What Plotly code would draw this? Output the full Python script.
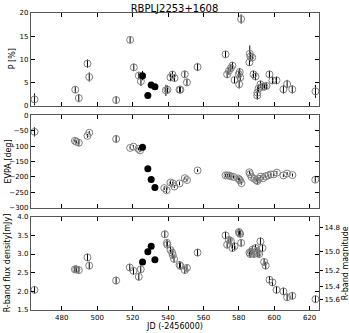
import plotly.graph_objects as go

# polarization fraction (open symbols)
jd_p = [464.6, 487.6, 489.6, 494.5, 495.5, 510.7, 518.6, 520.7, 523.5, 524.7,
        538.8, 539.7, 541.4, 542.5, 543.7, 546.5, 547.0, 549.5, 550.7, 556.7,
        572.5, 573.4, 574.4, 575.5, 576.4, 577.6, 580.0, 580.2, 580.5, 580.8,
        581.3, 586.0, 586.2, 586.6, 587.6, 588.3, 589.4, 590.5, 590.4, 591.1,
        592.2, 593.4, 594.5, 595.6, 597.3, 599.0, 601.3, 605.2, 607.3, 610.2,
        623.3]
p = [1.36, 3.45, 1.64, 9.07, 6.18, 1.21, 14.2, 8.27, 6.48, 5.25,
     3.30, 3.45, 6.10, 6.70, 5.96, 3.45, 3.45, 6.76, 5.03, 8.34,
     11.08, 6.76, 7.50, 8.10, 8.64, 5.53, 6.76, 4.60, 7.26, 6.10,
     18.70, 9.35, 11.20, 10.60, 10.40, 6.76, 6.30, 2.80, 2.20, 3.67,
     4.60, 4.10, 4.10, 4.25, 6.76, 5.46, 5.46, 3.52, 4.67, 3.52,
     3.09]
p_err = [1.3, 0.7, 0.9, 0.9, 1.0, 0.8, 0.7, 0.8, 0.7, 1.0,
         1.2, 0.9, 0.8, 0.8, 0.8, 0.8, 0.8, 0.8, 0.8, 0.9,
         0.7, 0.8, 0.8, 0.8, 0.8, 0.7, 0.8, 0.9, 0.9, 0.9,
         1.0, 0.8, 1.8, 1.0, 0.8, 0.8, 0.8, 1.3, 0.9, 0.9,
         0.8, 0.8, 0.8, 0.8, 0.8, 0.8, 0.8, 0.9, 0.9, 0.9,
         1.4]

# polarization angle (open symbols)
jd_evpa = [464.6, 487.4, 488.2, 489.6, 494.5, 495.5, 510.7, 518.6, 520.5, 523.3,
           524.2, 537.9, 539.2, 541.4, 542.7, 543.6, 546.5, 549.5, 550.7, 556.7,
           572.5, 573.6, 574.7, 575.6, 577.0, 579.6, 580.2, 580.7, 581.5, 586.0,
           586.4, 587.2, 588.7, 589.8, 590.5, 591.3, 592.4, 593.8, 595.1, 596.6,
           598.1, 599.6, 601.5, 605.2, 607.3, 610.3, 623.2]
evpa = [-54, -83, -86, -89.5, -67, -57, -77, -106, -102, -109,
        -114, -236, -243, -218, -221, -231, -221, -204, -210, -179,
        -195, -195, -196, -198, -200, -205, -208, -211, -220, -185,
        -191, -200, -206, -210, -213, -206, -199, -204, -198, -195,
        -192, -192, -186, -195, -189, -194, -209]
evpa_err = [15, 5, 5, 10, 6, 6, 13, 5, 5, 5,
            5, 6, 9, 6, 6, 5, 6, 5, 5, 5,
            5, 5, 5, 5, 5, 6, 6, 6, 5, 5,
            5, 5, 5, 5, 12, 6, 5, 5, 5, 5,
            5, 5, 5, 5, 5, 5, 9]

# R-band flux density (open symbols)
jd_flux = [464.6, 487.4, 488.2, 489.6, 494.5, 495.5, 510.7, 518.4, 520.5, 523.5,
           524.6, 538.2, 539.4, 539.6, 541.4, 542.3, 542.7, 543.4, 546.5, 547.0,
           549.5, 550.7, 556.7, 572.5, 573.4, 574.4, 575.5, 576.4, 577.6, 580.0,
           580.4, 580.8, 581.3, 586.0, 586.4, 587.0, 587.7, 588.6, 589.4, 590.2,
           590.7, 591.5, 592.2, 593.4, 594.3, 595.2, 597.3, 599.0, 601.3, 605.2,
           607.3, 610.2, 623.3]
flux = [2.04, 2.59, 2.59, 2.57, 2.91, 2.69, 2.29, 2.64, 2.55, 2.39,
        2.59, 3.53, 3.30, 3.25, 3.11, 3.04, 2.97, 2.87, 2.71, 2.68,
        2.57, 2.63, 3.04, 3.50, 3.25, 3.38, 3.35, 3.16, 3.21, 3.59,
        3.56, 3.54, 3.30, 3.04, 3.00, 3.06, 3.12, 3.00, 3.16, 3.08,
        3.02, 3.00, 3.34, 3.16, 2.79, 2.69, 2.31, 2.24, 2.04, 2.00,
        1.84, 1.88, 1.79]
flux_err = [0.1, 0.1, 0.1, 0.1, 0.1, 0.1, 0.1, 0.1, 0.1, 0.1,
            0.1, 0.1, 0.1, 0.1, 0.1, 0.1, 0.1, 0.1, 0.1, 0.1,
            0.1, 0.1, 0.1, 0.1, 0.1, 0.1, 0.1, 0.1, 0.1, 0.1,
            0.1, 0.1, 0.1, 0.1, 0.1, 0.1, 0.1, 0.1, 0.1, 0.1,
            0.1, 0.1, 0.1, 0.1, 0.1, 0.1, 0.1, 0.1, 0.1, 0.1,
            0.1, 0.1, 0.1]

# rotation period (filled symbols)
jd_rot = [525.6, 528.6, 530.5, 532.6]
p_rot = [6.48, 2.22, 4.45, 4.10]
p_rot_err = [1.0, 0.5, 0.5, 0.5]
evpa_rot = [-103.6, -173.7, -208.2, -234.0]
evpa_rot_err = [5, 5, 5, 5]
flux_rot = [2.79, 3.06, 3.21, 2.85]
flux_rot_err = [0.05, 0.05, 0.05, 0.05]

mag_ticks = [14.8, 15.0, 15.2, 15.4, 15.6]
R_ZERO_MJY = 3.08e6  # R-band zero point in mJy

FONT = "DejaVu Sans"
EDGE = "#808080"
open_marker = dict(symbol="circle-open", size=7, color=EDGE, line=dict(width=1, color=EDGE))
full_marker = dict(symbol="circle", size=7, color="black")
label_font = dict(family=FONT, size=8, color="black")
tick_font = dict(family=FONT, size=7, color="black")


def err(vals):
    return dict(type="data", array=vals, color="black", thickness=1, width=0)


fig = go.Figure()
fig.add_trace(go.Scatter(x=jd_p, y=p, error_y=err(p_err), mode="markers",
                         marker=open_marker, xaxis="x", yaxis="y"))
fig.add_trace(go.Scatter(x=jd_rot, y=p_rot, error_y=err(p_rot_err), mode="markers",
                         marker=full_marker, xaxis="x", yaxis="y"))
fig.add_trace(go.Scatter(x=jd_evpa, y=evpa, error_y=err(evpa_err), mode="markers",
                         marker=open_marker, xaxis="x2", yaxis="y2"))
fig.add_trace(go.Scatter(x=jd_rot, y=evpa_rot, error_y=err(evpa_rot_err), mode="markers",
                         marker=full_marker, xaxis="x2", yaxis="y2"))
fig.add_trace(go.Scatter(x=jd_flux, y=flux, error_y=err(flux_err), mode="markers",
                         marker=open_marker, xaxis="x3", yaxis="y3"))
fig.add_trace(go.Scatter(x=jd_rot, y=flux_rot, error_y=err(flux_rot_err), mode="markers",
                         marker=full_marker, xaxis="x3", yaxis="y3"))

axis_style = dict(
    showline=True, linecolor="#555555", linewidth=1.2, mirror="ticks",
    ticks="inside", ticklen=4, tickcolor="black", tickwidth=1,
    showgrid=False, zeroline=False, automargin=False,
    tickfont=tick_font,
)
xrange = [462.6, 625.3]
tick_jd = [480, 500, 520, 540, 560, 580, 600, 620]

fig.update_layout(
    width=349, height=333,
    margin=dict(l=31, r=30, t=13, b=23, autoexpand=False),
    paper_bgcolor="white", plot_bgcolor="white",
    showlegend=False,
    title=dict(text="RBPLJ2253+1608", x=0.5, xanchor="center", y=0.985, yanchor="top",
               font=dict(family=FONT, size=10, color="black")),
    xaxis=dict(domain=[0, 1], anchor="y", range=xrange, tickvals=tick_jd,
               showticklabels=False, **axis_style),
    xaxis2=dict(domain=[0, 1], anchor="y2", range=xrange, tickvals=tick_jd,
                showticklabels=False, **axis_style),
    xaxis3=dict(domain=[0, 1], anchor="y3", range=xrange, tickvals=tick_jd,
                title=dict(text="JD (-2456000)", standoff=2, font=label_font),
                **axis_style),
    yaxis=dict(domain=[0.688, 1], anchor="x", range=[0, 20], tickvals=[0, 5, 10, 15, 20],
               **axis_style),
    yaxis2=dict(domain=[0.344, 0.656], anchor="x2", range=[-300, 0],
                tickvals=[-300, -250, -200, -150, -100, -50, 0],
                ticktext=["\u2212300", "\u2212250", "\u2212200", "\u2212150", "\u2212100", "\u221250", "0"],
                **axis_style),
    yaxis3=dict(domain=[0, 0.314], anchor="x3", range=[1.5, 4.0],
                tickvals=[1.5, 2.0, 2.5, 3.0, 3.5, 4.0], tickformat=".1f",
                **axis_style),
    yaxis4=dict(overlaying="y3", anchor="x3", side="right", range=[1.5, 4.0],
                tickvals=[R_ZERO_MJY * 10 ** (-0.4 * m) for m in mag_ticks],
                ticktext=["%.1f" % m for m in mag_ticks],
                ticks="outside", ticklen=3, tickcolor="black", showline=False,
                showgrid=False, zeroline=False, automargin=False, tickfont=tick_font),
)

# axis titles placed by hand, like the reference
y_titles = [("P [%]", 0.844, -19), ("EVPA [deg]", 0.5, -23),
            ("R-band flux density[mJy]", 0.157, -24)]
for text, ypos, shift in y_titles:
    fig.add_annotation(text=text, textangle=-90, xref="paper", yref="paper",
                       x=0, y=ypos, xanchor="center", yanchor="middle", xshift=shift,
                       showarrow=False, font=label_font)
fig.add_annotation(text="R-band magnitude", textangle=-90, xref="paper", yref="paper",
                   x=1, y=0.157, xanchor="center", yanchor="middle", xshift=26,
                   showarrow=False, font=label_font)
# dummy trace so the right-hand magnitude axis is drawn
fig.add_trace(go.Scatter(x=[xrange[0]], y=[1.5], mode="markers", marker=dict(opacity=0),
                         xaxis="x3", yaxis="y4", hoverinfo="skip"))

# the page body has a default margin; drop it so the figure sits at the corner
fig.write_html("out.html", config={"displayModeBar": False},
               post_script="document.body.style.margin='0';")
